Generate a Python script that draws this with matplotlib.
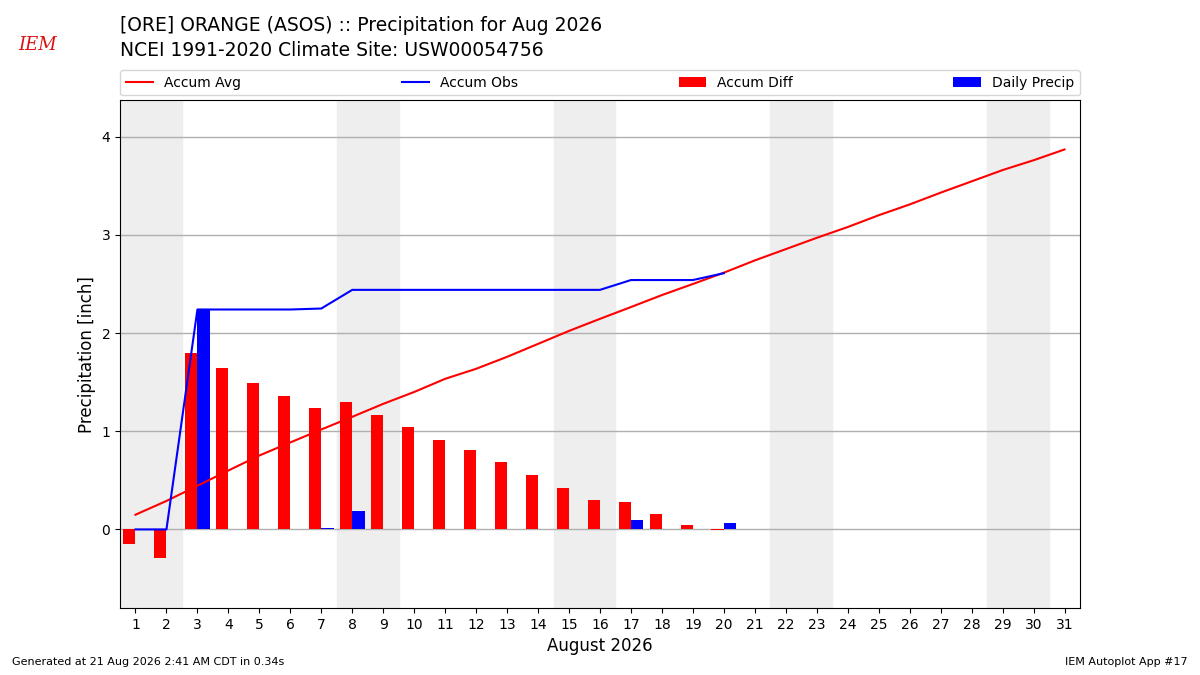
import numpy as np
import matplotlib
matplotlib.use('Agg')
import matplotlib.pyplot as plt

# day of month
days = list(range(1, 32))
# climatology accumulated average (inch), all month
accum_avg = [0.15, 0.29, 0.445, 0.60, 0.753, 0.886, 1.018, 1.147, 1.279, 1.40,
             1.534, 1.636, 1.758, 1.89, 2.022, 2.145, 2.265, 2.387, 2.50, 2.615,
             2.74, 2.855, 2.97, 3.08, 3.20, 3.31, 3.43, 3.545, 3.66, 3.76, 3.87]
# observed so far (through the 20th)
obs_days = list(range(1, 21))
daily_precip = [0.0, 0.0, 2.24, 0.0, 0.0, 0.0, 0.01, 0.19, 0.0, 0.0,
                0.0, 0.0, 0.0, 0.0, 0.0, 0.0, 0.10, 0.0, 0.0, 0.07]
accum_obs = [0.0, 0.0, 2.24, 2.24, 2.24, 2.24, 2.25, 2.44, 2.44, 2.44,
             2.44, 2.44, 2.44, 2.44, 2.44, 2.44, 2.54, 2.54, 2.54, 2.61]
accum_diff = [-0.15, -0.29, 1.795, 1.64, 1.487, 1.354, 1.232, 1.293, 1.161, 1.039,
              0.906, 0.804, 0.682, 0.55, 0.418, 0.295, 0.275, 0.153, 0.04, -0.005]
# weekend start days (Sat)
weekends = [1, 8, 15, 22, 29]

fig = plt.figure(figsize=(12, 6.75), dpi=100)
ax = fig.add_axes([0.1, 0.0993, 0.8, 0.752])

for d in weekends:
    ax.axvspan(d - 0.5, d + 1.5, color='#eeeeee', zorder=0)

ax.bar(obs_days, accum_diff, width=-0.4, align='edge', color='r',
       label='Accum Diff', zorder=2)
ax.bar(obs_days, daily_precip, width=0.4, align='edge', color='b',
       label='Daily Precip', zorder=2)
ax.plot(days, accum_avg, color='r', lw=1.5, label='Accum Avg', zorder=3)
ax.plot(obs_days, accum_obs, color='b', lw=1.5, label='Accum Obs', zorder=3)

ax.set_xlim(0.5, 31.5)
ax.set_ylim(-0.8, 4.37)
ax.set_xticks(days)
ax.set_yticks([0, 1, 2, 3, 4])
ax.grid(axis='y', color='#b0b0b0', lw=1, zorder=1)
ax.set_axisbelow(True)
ax.set_xlabel('August 2026', fontsize=12)
ax.set_ylabel('Precipitation [inch]', fontsize=12)

handles, labels = ax.get_legend_handles_labels()
order = [labels.index(l) for l in ['Accum Avg', 'Accum Obs', 'Accum Diff', 'Daily Precip']]
ax.legend([handles[i] for i in order], [labels[i] for i in order],
          loc='lower left', bbox_to_anchor=(0., 1.01, 1., 0.05), ncol=4,
          mode='expand', borderaxespad=0, fontsize=10)

fig.text(0.1, 0.977, '[ORE] ORANGE (ASOS) :: Precipitation for Aug 2026\n'
         'NCEI 1991-2020 Climate Site: USW00054756',
         ha='left', va='top', fontsize=13.5, linespacing=1.4)
# logo stand-in
fig.text(0.031, 0.933, 'IEM', color='#d11', fontsize=13, family='DejaVu Serif',
         style='italic', ha='center', va='center')

fig.text(0.01, 0.015, 'Generated at 21 Aug 2026 2:41 AM CDT in 0.34s', fontsize=8)
fig.text(0.99, 0.015, 'IEM Autoplot App #17', fontsize=8, ha='right')

fig.savefig('out.png', dpi=100)
